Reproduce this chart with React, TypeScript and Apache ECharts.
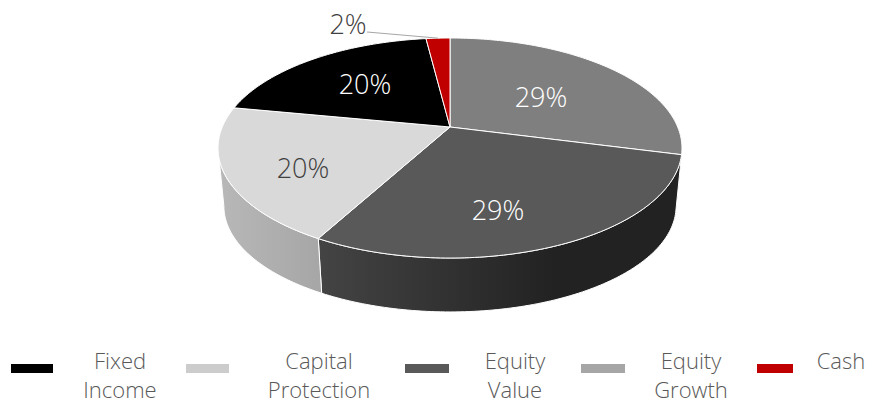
import React, { useEffect, useRef } from "react";
import * as echarts from "echarts";

// Legend order
const categories = ["Fixed Income", "Capital Protection", "Equity Value", "Equity Growth", "Cash"];
const values = [20, 20, 29, 29, 2];
const legendColors = ["#000000", "#cccccc", "#595959", "#a6a6a6", "#c00000"];
// Pie order, clockwise from 12 o'clock
const sliceOrder = [3, 2, 1, 0, 4];
const topColors = ["#000000", "#d9d9d9", "#595959", "#7f7f7f", "#c00000"];
const rimColors = [
  ["#000000", "#000000"],
  ["#b8b8b8", "#a6a6a6"],
  ["#444444", "#222222"],
  ["#5f5f5f", "#5f5f5f"],
  ["#900000", "#900000"],
];
const rimStops = [1, 1, 0.65, 1, 1];
const labelColors = ["#ffffff", "#404040", "#ffffff", "#ffffff", "#404040"];
const labelCenters = [[365, 83], [303, 167], [498, 209], [541, 96], [348, 23]];
const legendLefts = [11, 186, 405, 581, 757];
const legendIconWidths = [42, 43, 44, 44, 36];
const legendTextWidths = [124, 170, 122, 122, 86];
const FONT = '"Open Sans", sans-serif';

const TOP = { cx: 450, cy: 127, a: 106, b: 227.7, k: 0.191 };
const BOTTOM = { cx: 450, cy: 186, a: 102, b: 222, k: 0.19 };

function project(p: typeof TOP, deg: number, r = 1): number[] {
  const t = (deg * Math.PI) / 180;
  const u = Math.sin(t) * r;
  const v = Math.cos(t) * r;
  const w = 1 + p.k * v;
  return [p.cx + (p.b * u) / w, p.cy - (p.a * v) / w];
}

function arc(p: typeof TOP, from: number, to: number): number[][] {
  const pts: number[][] = [];
  const n = Math.max(2, Math.ceil(to - from));
  for (let i = 0; i <= n; i++) pts.push(project(p, from + ((to - from) * i) / n));
  return pts;
}

const total = values.reduce((s, v) => s + v, 0);
const spans: Record<number, [number, number]> = {};
{
  let acc = 0;
  sliceOrder.forEach((i) => {
    spans[i] = [(acc / total) * 360, ((acc + values[i]) / total) * 360];
    acc += values[i];
  });
}
const SIL = (Math.acos(-TOP.k) * 180) / Math.PI;

function renderSlice(i: number) {
  return () => {
    const [a0, a1] = spans[i];
    const children: any[] = [];
    const r0 = Math.max(a0, SIL);
    const r1 = Math.min(a1, 360 - SIL);
    if (r1 > r0) {
      const pts = [...arc(TOP, r0, r1), ...arc(BOTTOM, r0, r1).reverse()];
      children.push({
        type: "polygon",
        shape: { points: pts },
        style: {
          fill: new echarts.graphic.LinearGradient(0, 0, 1, 0, [
            { offset: 0, color: rimColors[i][0] },
            { offset: rimStops[i], color: rimColors[i][1] },
            { offset: 1, color: rimColors[i][1] },
          ]),
          stroke: "#ffffff",
          lineWidth: 1,
        },
      });
    }
    children.push({
      type: "polygon",
      shape: { points: [[TOP.cx, TOP.cy], ...arc(TOP, a0, a1)] },
      style: { fill: topColors[i], stroke: "#ffffff", lineWidth: 1 },
    });
    const [lx, ly] = labelCenters[i];
    if (values[i] / total < 0.05) {
      const end = project(TOP, (a0 + a1) / 2);
      children.push({
        type: "polyline",
        shape: { points: [[lx + 19, ly + 9], end] },
        style: { fill: "none", stroke: "#a6a6a6", lineWidth: 1 },
      });
    }
    children.push({
      type: "text",
      style: {
        x: lx,
        y: ly,
        text: `${Math.round((values[i] / total) * 100)}%`,
        fill: labelColors[i],
        font: `300 27px ${FONT}`,
        align: "center",
        verticalAlign: "middle",
      },
    });
    return { type: "group", children };
  };
}

export default function App() {
  const ref = useRef<HTMLDivElement>(null);
  useEffect(() => {
    const chart = echarts.init(ref.current!, null, { renderer: "svg" });
    chart.setOption({
      animation: false,
      backgroundColor: "#ffffff",
      xAxis: { show: false },
      yAxis: { show: false },
      legend: categories.map((name, i) => {
        const words = name.split(" ");
        const base = {
          width: legendTextWidths[i],
          align: "center",
          fontSize: 22,
          fontWeight: 300,
          fontFamily: FONT,
          color: "#595959",
        };
        return {
          data: [name],
          left: legendLefts[i],
          top: 349,
          padding: 0,
          itemWidth: legendIconWidths[i],
          itemHeight: 9,
          itemGap: 0,
          icon: "rect",
          selectedMode: false,
          formatter: (n: string) =>
            n.split(" ").map((w, j) => `{${j === 0 ? "a" : "b"}|${w}}`).join("\n"),
          textStyle: {
            padding: words.length > 1 ? [7, 0, 0, 0] : [0, 0, 17, 0],
            rich: {
              a: { ...base, lineHeight: words.length > 1 ? 34 : 29 },
              b: { ...base, lineHeight: 24 },
            },
          },
        };
      }),
      series: sliceOrder.map((i) => ({
        type: "custom",
        name: categories[i],
        coordinateSystem: "none",
        silent: true,
        clip: false,
        itemStyle: { color: legendColors[i] },
        data: [values[i]],
        renderItem: renderSlice(i),
      })),
    });
    return () => chart.dispose();
  }, []);
  return <div ref={ref} style={{ position: "absolute", left: 0, top: 0, width: 879, height: 402 }} />;
}
